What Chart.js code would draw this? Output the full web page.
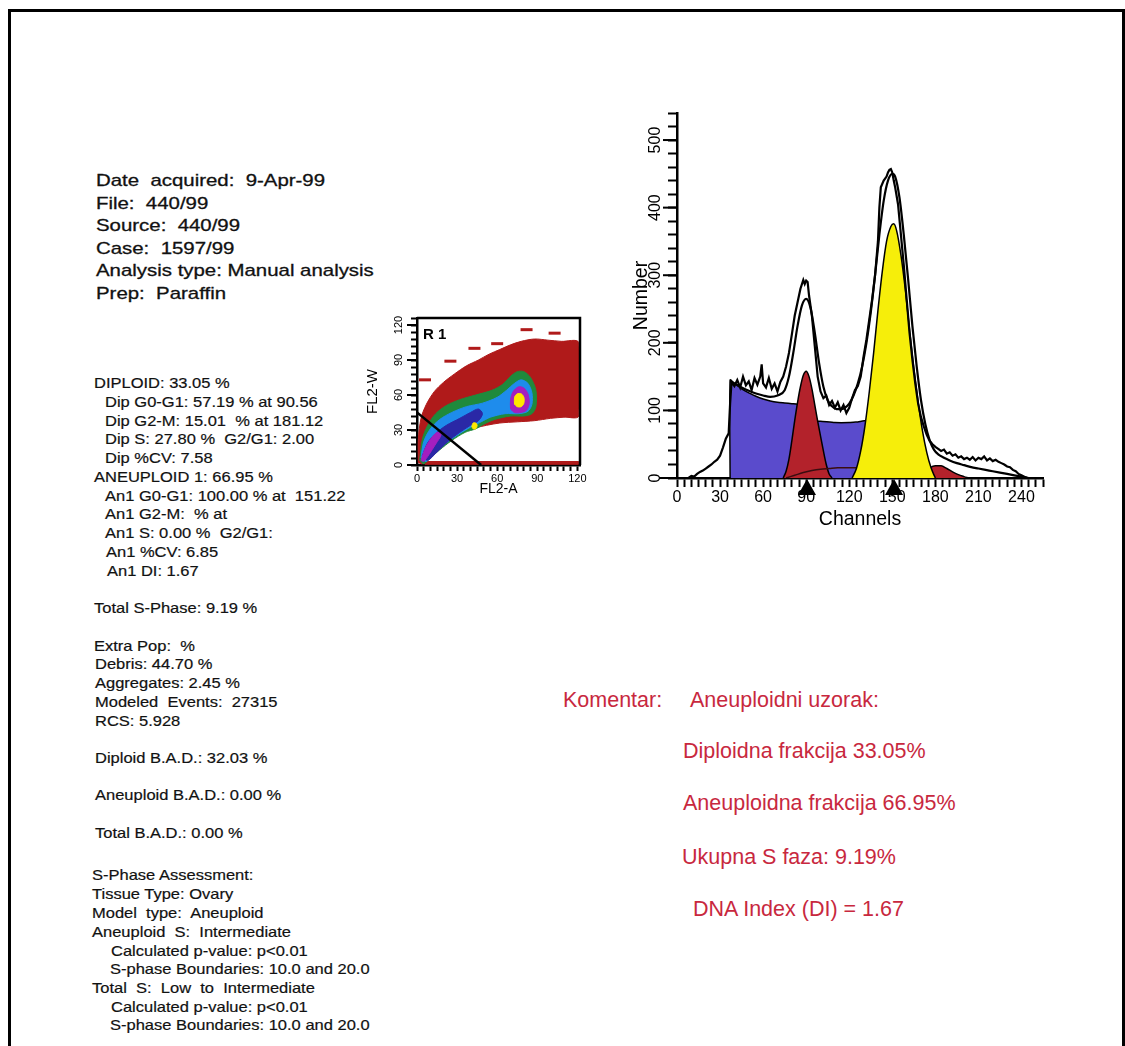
<!DOCTYPE html>
<html>
<head>
<meta charset="utf-8">
<script src="https://cdn.jsdelivr.net/npm/chart.js@4.4.1/dist/chart.umd.min.js"></script>
<style>
  html, body { margin: 0; padding: 0; background: #fff; }
  body { width: 1125px; height: 1046px; position: relative; overflow: hidden; }
  #frame { position: absolute; left: 8px; top: 9px; width: 1111px; height: 1100px;
           border-top: 3px solid #000; border-left: 3px solid #000; border-right: 3px solid #000; }
  .t { position: absolute; white-space: pre; font-family: "Liberation Sans", Arial, sans-serif; color: #111; transform-origin: 0 50%; }
  .head { font-size: 17px; line-height: 20px; transform: scaleX(1.2); -webkit-text-stroke: 0.3px #111; }
  .small { font-size: 15px; line-height: 18px; transform: scaleX(1.1); -webkit-text-stroke: 0.2px #111; }
  .red { font-size: 21.5px; line-height: 24px; color: #c8283e; }
  canvas { position: absolute; }
  #dotplot { left: 340px; top: 300px; }
  #histo { left: 600px; top: 90px; }
</style>
</head>
<body>
<div id="frame"></div>
<div id="texts"></div>
<canvas id="dotplot" width="260" height="210"></canvas>
<canvas id="histo" width="460" height="450"></canvas>
<script>
// ---- DNA histogram (Channels vs Number) ----
var rawChannels = [8,10,12,14,16,18,20,22,24,26,28,30,32,34,36,37,38,40,42,44,46,48,50,52,54,56,58,59,60,62,64,66,68,70,72,74,76,78,80,82,84,86,88,89,90,91,92,94,96,98,100,102,104,106,108,110,112,114,116,118,120,122,124,126,128,130,132,134,136,138,140,141,142,144,146,147,148,149,150,151,152,154,156,158,160,162,164,166,168,170,172,174,176,178,180,182,184,186,188,190,192,194,196,198,200,202,204,206,208,210,212,214,216,218,220,222,224,226,228,230,232,234,236,238,240,242,244];
var rawCounts = [0,3,2,6,9,11,14,17,20,24,27,33,45,58,66,110,142,136,145,134,150,137,143,130,148,138,150,168,140,134,148,132,140,128,142,150,165,185,212,240,260,280,293,287,292,290,270,240,195,150,128,118,122,108,114,104,112,100,108,96,104,118,130,136,150,180,205,235,265,300,350,400,430,440,446,452,456,457,452,440,430,405,360,315,265,215,175,140,110,90,76,64,55,50,46,43,40,42,36,38,33,35,30,32,28,30,27,31,26,30,28,32,26,29,25,27,24,22,20,17,16,12,10,6,4,2,0];

var fitChannels = [37,40,45,50,55,60,65,70,75,78,81,84,87,90,93,96,99,102,105,108,111,114,117,120,123,126,129,132,135,138,141,144,147,150,152,155,158,161,164,167,170,173,176,179,182,186,190,195,200,205,210,215,220,225,230,235,240,245];
var fitCounts = [143,140,134,129,125,122,120,122,130,150,185,225,255,265,252,215,170,135,115,106,102,102,104,110,122,140,165,200,245,300,360,410,440,450,446,415,360,295,225,165,115,80,56,42,35,30,26,22,19,16,14,12,10,8,6,4,2,0];

var debrisChannels = [37,37,40,45,50,55,60,65,70,75,80,84,88,92,96,100,110,120,126,132,132];
var debrisCounts = [0,145,140,132,126,121,117,114,112,111,110,109,95,86,84,84,82,82,83,84,0];

var dipG1Channels = [74,76,78,80,82,84,86,88,90,92,94,96,98,100,102,104,106,108];
var dipG1Counts = [0,10,28,55,85,112,135,152,158,150,132,108,84,62,40,20,6,0];

var anG1Channels = [122,125,128,131,134,137,140,143,146,149,151,153,156,159,162,165,168,171,174,177,180];
var anG1Counts = [0,14,40,78,128,185,248,305,350,372,376,366,330,280,220,163,113,70,38,15,0];

var sPhaseChannels = [76,82,88,94,100,106,112,118,124,130,140,150,160,170,176];
var sPhaseCounts = [0,4,8,11,13,14,15,15,15,15,15,15,15,15,16];

var dipG2Channels = [168,172,176,180,184,188,192,196,200,203];
var dipG2Counts = [0,9,15,18,18,14,9,5,2,0];

var peakMarkers = [90.56, 151.22];
var numberTicks = [0, 100, 200, 300, 400, 500];
var channelTicks = [0, 30, 60, 90, 120, 150, 180, 210, 240];

// ---- FL2-A vs FL2-W density plot (contour outlines) ----
var redZoneA = [1,1,3,7,13,20,28,37,46,54,62,70,78,88,98,108,121,121,110,100,88,75,62,52,44,36,27,19,12,7,4,1];
var redZoneW = [2,22,40,52,63,71,78,85,90,95,99,103,106,108,107,106,105,42,41,40,38,37,36,34,32,30,25,17,10,4,1,2];
var baseStripA = [6,121,121,6,6];
var baseStripW = [0.6,0.6,3,3,0.6];
var greenZoneA = [2,4,8,14,22,32,44,56,64,70,75,80,85,89,89,86,80,70,58,50,44,36,26,17,10,5,2];
var greenZoneW = [4,22,34,44,51,56,60,64,69,76,80,80,75,64,50,44,42,42,39,35,31,28,21,13,6,1,4];
var blueZoneA = [3,5,10,17,26,37,49,60,67,73,78,83,86,86,83,76,66,55,48,41,32,22,13,7,3];
var blueZoneW = [6,20,31,39,45,50,53,58,64,70,73,70,62,52,46,44,44,41,37,33,27,19,10,3,6];
var navyZoneA = [4,8,14,22,32,40,46,49,46,40,32,23,14,8,4];
var navyZoneW = [8,19,27,34,40,45,48,44,38,34,28,20,10,4,8];
var purpleLowA = [3,6,10,15,18,14,9,5,3];
var purpleLowW = [4,14,22,28,26,18,9,3,4];
var purplePeakA = [70,70,72,76,80,83,84,82,78,73,70];
var purplePeakW = [48,56,63,67,66,61,53,47,45,45,48];
var yellowPeakA = [73,73,75,78,80,80,78,75,73];
var yellowPeakW = [52,58,61,61,58,53,50,50,52];
var yellowSpotA = [41,42,44,45,44,42,41];
var yellowSpotW = [33,36,36,34,31,31,33];
var streakA = [82,43,25,6,103,60];
var streakW = [116,100,89,73,113,104];
var gateA = [0, 48];
var gateW = [45, 0];
var fl2Ticks = [0, 30, 60, 90, 120];

var FONT = '"Liberation Sans", Arial, sans-serif';

function pts(xs, ys) {
  var out = [];
  for (var i = 0; i < xs.length; i++) out.push({x: xs[i], y: ys[i]});
  return out;
}

// ---- text blocks ----
var headLines = [
  ['Date  acquired:  9-Apr-99', 96, 181],
  ['File:  440/99', 96, 203.5],
  ['Source:  440/99', 96, 226],
  ['Case:  1597/99', 96, 248.5],
  ['Analysis type: Manual analysis', 96, 271],
  ['Prep:  Paraffin', 96, 293.5]
];
var smallLines = [
  ['DIPLOID: 33.05 %', 94, 383],
  ['Dip G0-G1: 57.19 % at 90.56', 105, 402],
  ['Dip G2-M: 15.01  % at 181.12', 105, 421],
  ['Dip S: 27.80 %  G2/G1: 2.00', 105, 439],
  ['Dip %CV: 7.58', 105, 458],
  ['ANEUPLOID 1: 66.95 %', 94, 477],
  ['An1 G0-G1: 100.00 % at  151.22', 105, 496],
  ['An1 G2-M:  % at', 105, 514],
  ['An1 S: 0.00 %  G2/G1:', 105, 533],
  ['An1 %CV: 6.85', 106, 552],
  ['An1 DI: 1.67', 107, 571],
  ['Total S-Phase: 9.19 %', 94, 608],
  ['Extra Pop:  %', 94, 646],
  ['Debris: 44.70 %', 95, 664],
  ['Aggregates: 2.45 %', 95, 683],
  ['Modeled  Events:  27315', 95, 702],
  ['RCS: 5.928', 95, 721],
  ['Diploid B.A.D.: 32.03 %', 95, 758],
  ['Aneuploid B.A.D.: 0.00 %', 95, 795],
  ['Total B.A.D.: 0.00 %', 95, 833],
  ['S-Phase Assessment:', 92, 875],
  ['Tissue Type: Ovary', 92, 894],
  ['Model  type:  Aneuploid', 92, 913],
  ['Aneuploid  S:  Intermediate', 92, 932],
  ['Calculated p-value: p<0.01', 111, 951],
  ['S-phase Boundaries: 10.0 and 20.0', 110, 969],
  ['Total  S:  Low  to  Intermediate', 92, 988],
  ['Calculated p-value: p<0.01', 111, 1007],
  ['S-phase Boundaries: 10.0 and 20.0', 110, 1025]
];
var redLines = [
  ['Komentar:', 563, 700],
  ['Aneuploidni uzorak:', 690, 700],
  ['Diploidna frakcija 33.05%', 683, 751],
  ['Aneuploidna frakcija 66.95%', 683, 803],
  ['Ukupna S faza: 9.19%', 682, 857],
  ['DNA Index (DI) = 1.67', 693, 909]
];

function addLines(lines, cls, half) {
  var box = document.getElementById('texts');
  lines.forEach(function(l) {
    var d = document.createElement('div');
    d.className = 't ' + cls;
    d.textContent = l[0];
    d.style.left = l[1] + 'px';
    d.style.top = (l[2] - half) + 'px';
    box.appendChild(d);
  });
}
addLines(headLines, 'head', 10);
addLines(smallLines, 'small', 9);
addLines(redLines, 'red', 12);

// ---- histogram ----
var histExtras = {
  id: 'histExtras',
  afterDraw: function(chart) {
    var ctx = chart.ctx, x = chart.scales.x, y = chart.scales.y, area = chart.chartArea;
    ctx.save();
    ctx.strokeStyle = '#000';
    ctx.fillStyle = '#000';
    ctx.lineWidth = 2;
    ctx.font = '16px ' + FONT;
    ctx.textAlign = 'center';
    ctx.textBaseline = 'middle';
    numberTicks.forEach(function(v) {
      var py = y.getPixelForValue(v);
      ctx.beginPath();
      ctx.moveTo(area.left - (v === 0 ? 18 : 14), py);
      ctx.lineTo(area.left, py);
      ctx.stroke();
      ctx.save();
      ctx.translate(area.left - 21, py);
      ctx.rotate(-Math.PI / 2);
      ctx.fillText(String(v), 0, 0);
      ctx.restore();
    });
    // peak position markers under the channel axis
    peakMarkers.forEach(function(v) {
      var px = x.getPixelForValue(v);
      ctx.beginPath();
      ctx.moveTo(px, area.bottom + 1);
      ctx.lineTo(px + 9, area.bottom + 17);
      ctx.lineTo(px - 9, area.bottom + 17);
      ctx.closePath();
      ctx.fill();
    });
    ctx.restore();
  }
};

var filled = function(label, xs, ys, color, order) {
  return {
    label: label, data: pts(xs, ys), order: order,
    fill: 'origin', backgroundColor: color, borderColor: '#000', borderWidth: 1.5,
    tension: 0.3, cubicInterpolationMode: 'monotone', pointRadius: 0
  };
};

new Chart(document.getElementById('histo'), {
  type: 'line',
  data: {
    datasets: [
      {
        label: 'data', data: pts(rawChannels, rawCounts), order: 1,
        borderColor: '#000', borderWidth: 2.2, pointRadius: 0, tension: 0, fill: false
      },
      {
        label: 'model', data: pts(fitChannels, fitCounts), order: 2,
        borderColor: '#000', borderWidth: 2.2, pointRadius: 0, tension: 0.3,
        cubicInterpolationMode: 'monotone', fill: false
      },
      filled('An1 G0-G1', anG1Channels, anG1Counts, '#f6ee0a', 3),
      {
        label: 'Dip S', data: pts(sPhaseChannels, sPhaseCounts), order: 4,
        borderColor: '#3a0d10', borderWidth: 1.5, pointRadius: 0, tension: 0.3,
        cubicInterpolationMode: 'monotone', fill: false
      },
      filled('Dip G0-G1', dipG1Channels, dipG1Counts, '#b3222b', 5),
      filled('Dip G2-M', dipG2Channels, dipG2Counts, '#b3222b', 6),
      {
        label: 'Debris', data: pts(debrisChannels, debrisCounts), order: 7,
        fill: 'origin', backgroundColor: '#5a4bcc', borderColor: '#000', borderWidth: 1.5,
        tension: 0.2, pointRadius: 0
      }
    ]
  },
  options: {
    responsive: false,
    animation: false,
    layout: { padding: { left: 30, top: 23, right: 17, bottom: 9 } },
    plugins: { legend: { display: false }, tooltip: { enabled: false } },
    scales: {
      x: {
        type: 'linear', min: 0, max: 255,
        ticks: {
          stepSize: 5, autoSkip: false, maxRotation: 0, includeBounds: false, padding: 1,
          color: '#000', font: { size: 16, family: FONT },
          callback: function(v) { return channelTicks.indexOf(v) >= 0 ? String(v) : ''; }
        },
        grid: { drawOnChartArea: false, tickLength: 9, tickWidth: 2, tickColor: '#000' },
        border: { color: '#000', width: 2.5 },
        title: { display: true, text: 'Channels', color: '#000', font: { size: 19.5, family: FONT }, padding: 0 },
        afterFit: function(s) { s.height = 53; }
      },
      y: {
        min: 0, max: 540,
        ticks: { stepSize: 20, display: false, includeBounds: false },
        grid: { drawOnChartArea: false, tickLength: 9, tickWidth: 2, tickColor: '#000' },
        border: { color: '#000', width: 2.5 },
        title: { display: true, text: 'Number', color: '#000', font: { size: 19.5, family: FONT }, padding: 0 },
        afterFit: function(s) { s.width = 47; }
      }
    }
  },
  plugins: [histExtras]
});

// ---- dot plot ----
var dotExtras = {
  id: 'dotExtras',
  afterDraw: function(chart) {
    var ctx = chart.ctx, y = chart.scales.y, area = chart.chartArea;
    ctx.save();
    ctx.strokeStyle = '#000';
    ctx.fillStyle = '#000';
    ctx.lineWidth = 2.5;
    ctx.beginPath();
    ctx.moveTo(area.left, area.top);
    ctx.lineTo(area.right, area.top);
    ctx.lineTo(area.right, area.bottom);
    ctx.stroke();
    ctx.lineWidth = 2;
    ctx.font = '11px ' + FONT;
    ctx.textAlign = 'center';
    ctx.textBaseline = 'middle';
    fl2Ticks.forEach(function(v) {
      var py = y.getPixelForValue(v);
      ctx.beginPath();
      ctx.moveTo(area.left - 10, py);
      ctx.lineTo(area.left, py);
      ctx.stroke();
      ctx.save();
      ctx.translate(area.left - 18, py);
      ctx.rotate(-Math.PI / 2);
      ctx.fillText(String(v), 0, 0);
      ctx.restore();
    });
    ctx.font = 'bold 15px ' + FONT;
    ctx.textAlign = 'left';
    ctx.fillText('R 1', area.left + 6, area.top + 17);
    ctx.restore();
  }
};

var zone = function(label, xs, ys, color) {
  return {
    label: label, data: pts(xs, ys), showLine: true, fill: 'shape',
    backgroundColor: color, borderColor: color, borderWidth: 1,
    tension: 0.3, pointRadius: 0
  };
};

new Chart(document.getElementById('dotplot'), {
  type: 'scatter',
  data: {
    datasets: [
      {
        label: 'gate', data: pts(gateA, gateW), showLine: true, order: 0,
        borderColor: '#000', borderWidth: 2.5, pointRadius: 0, fill: false
      },
      Object.assign(zone('yellow spot', yellowSpotA, yellowSpotW, '#ffe800'), { order: 1 }),
      Object.assign(zone('yellow', yellowPeakA, yellowPeakW, '#ffe800'), { order: 2 }),
      Object.assign(zone('purple peak', purplePeakA, purplePeakW, '#a41fbf'), { order: 3 }),
      Object.assign(zone('purple low', purpleLowA, purpleLowW, '#a41fbf'), { order: 4 }),
      Object.assign(zone('navy', navyZoneA, navyZoneW, '#2a28a6'), { order: 5 }),
      Object.assign(zone('blue', blueZoneA, blueZoneW, '#1e8cec'), { order: 6 }),
      Object.assign(zone('green', greenZoneA, greenZoneW, '#1f8a3c'), { order: 7 }),
      Object.assign(zone('red', redZoneA, redZoneW, '#b01a1a'), { order: 8 }),
      Object.assign(zone('base', baseStripA, baseStripW, '#b01a1a'), { order: 9, tension: 0 }),
      {
        label: 'streaks', data: pts(streakA, streakW), order: 10,
        pointStyle: 'line', pointRadius: 6, borderColor: '#b01a1a', borderWidth: 3
      }
    ]
  },
  options: {
    responsive: false,
    animation: false,
    layout: { padding: { left: 24, top: 18, right: 20, bottom: 12 } },
    plugins: { legend: { display: false }, tooltip: { enabled: false } },
    scales: {
      x: {
        type: 'linear', min: 0, max: 122,
        ticks: {
          stepSize: 5, autoSkip: false, maxRotation: 0, includeBounds: false, padding: 1,
          color: '#000', font: { size: 11, family: FONT },
          callback: function(v) { return fl2Ticks.indexOf(v) >= 0 ? String(v) : ''; }
        },
        grid: { drawOnChartArea: false, tickLength: 6, tickWidth: 2, tickColor: '#000' },
        border: { color: '#000', width: 2.5 },
        title: { display: true, text: 'FL2-A', color: '#000', font: { size: 14, family: FONT }, padding: 0 },
        afterFit: function(s) { s.height = 33; }
      },
      y: {
        type: 'linear', min: 0, max: 126,
        ticks: { stepSize: 6, display: false, includeBounds: false },
        grid: { drawOnChartArea: false, tickLength: 6, tickWidth: 2, tickColor: '#000' },
        border: { color: '#000', width: 2.5 },
        title: { display: true, text: 'FL2-W', color: '#000', font: { size: 15, family: FONT }, padding: 0 },
        afterFit: function(s) { s.width = 53; }
      }
    }
  },
  plugins: [dotExtras]
});
</script>
</body>
</html>
